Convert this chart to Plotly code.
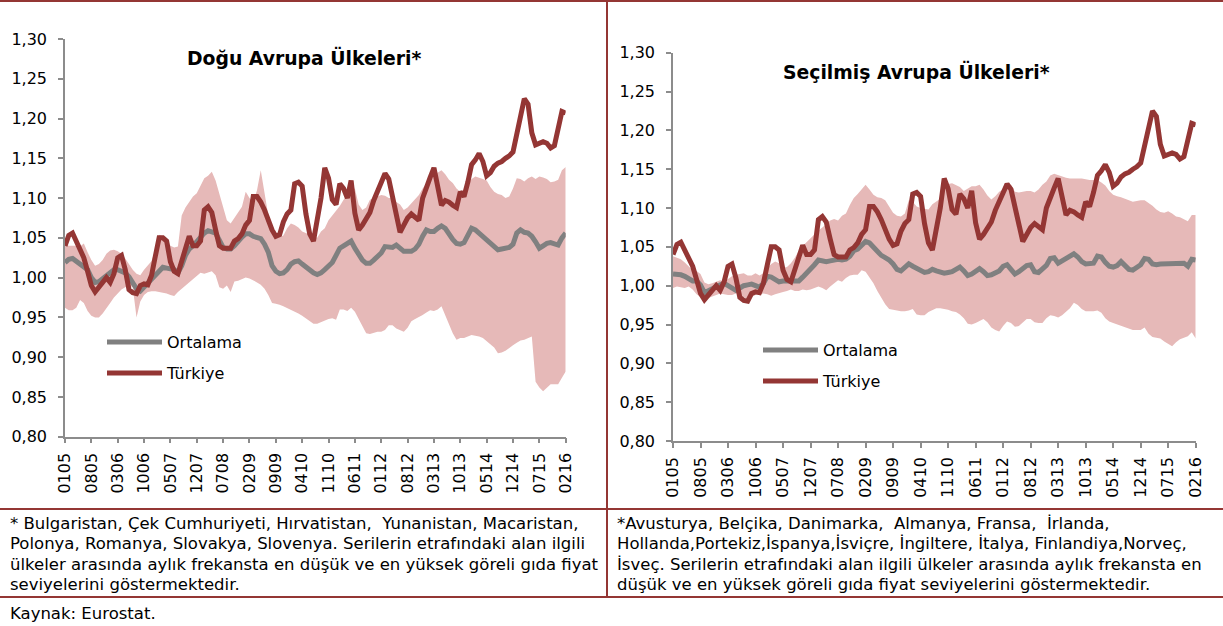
import plotly.graph_objects as go

W, H = 1223, 626

tick_labels = ["0105", "0805", "0306", "1006", "0507", "1207", "0708", "0209", "0909", "0410",
               "1110", "0611", "0112", "0812", "0313", "1013", "0514", "1214", "0715", "0216"]

turkiye = [
    1.040, 1.053, 1.056, 1.045, 1.036, 1.025, 1.008, 0.990, 0.982, 0.988,
    0.996, 1.000, 0.994, 1.005, 1.025, 1.028, 1.010, 0.985, 0.981, 0.980,
    0.990, 0.992, 0.991, 1.003, 1.027, 1.050, 1.050, 1.046, 1.020, 1.008,
    1.005, 1.022, 1.040, 1.052, 1.040, 1.040, 1.046, 1.085, 1.089, 1.082,
    1.060, 1.040, 1.037, 1.037, 1.037, 1.046, 1.049, 1.055, 1.066, 1.072,
    1.102, 1.102, 1.095, 1.085, 1.070, 1.060, 1.052, 1.054, 1.070, 1.080,
    1.085, 1.118, 1.120, 1.115, 1.080, 1.055, 1.046, 1.070, 1.100, 1.138,
    1.125, 1.098, 1.092, 1.118, 1.112, 1.100, 1.122, 1.081, 1.060, 1.066,
    1.074, 1.082, 1.097, 1.108, 1.118, 1.131, 1.124, 1.100, 1.075, 1.057,
    1.066, 1.075, 1.080, 1.075, 1.072, 1.100, 1.115, 1.126, 1.138, 1.116,
    1.091, 1.097, 1.095, 1.091, 1.088, 1.108, 1.102, 1.120, 1.142, 1.148,
    1.156, 1.146, 1.128, 1.132, 1.140, 1.144, 1.146, 1.150, 1.153, 1.158,
    1.180, 1.205, 1.225, 1.218, 1.182, 1.167, 1.169, 1.171, 1.169, 1.163,
    1.166, 1.190, 1.209, 1.207,
]

dogu_ortalama = [
    1.019, 1.023, 1.024, 1.020, 1.017, 1.013, 1.010, 1.000, 0.994, 0.995,
    0.999, 1.003, 1.007, 1.010, 1.010, 1.008, 1.006, 1.001, 0.993, 0.986,
    0.983, 0.988, 0.994, 0.999, 1.005, 1.010, 1.013, 1.012, 1.011, 1.010,
    1.006, 1.015, 1.028, 1.036, 1.040, 1.046, 1.052, 1.056, 1.059, 1.058,
    1.056, 1.047, 1.038, 1.036, 1.036, 1.040, 1.046, 1.051, 1.055, 1.055,
    1.052, 1.050, 1.049, 1.042, 1.032, 1.015, 1.008, 1.005, 1.006, 1.010,
    1.017, 1.020, 1.021, 1.017, 1.013, 1.009, 1.006, 1.004, 1.006, 1.010,
    1.014, 1.019, 1.028, 1.037, 1.040, 1.043, 1.046, 1.037, 1.028, 1.022,
    1.018, 1.018, 1.022, 1.026, 1.031, 1.039, 1.039, 1.038, 1.041, 1.036,
    1.033, 1.033, 1.033, 1.036, 1.042, 1.052, 1.060, 1.058, 1.058, 1.062,
    1.065, 1.062, 1.054, 1.048, 1.043, 1.042, 1.044, 1.052, 1.062, 1.060,
    1.056, 1.052, 1.048, 1.043, 1.038, 1.035, 1.036, 1.037, 1.038, 1.042,
    1.056, 1.060, 1.057, 1.056, 1.052, 1.045, 1.037, 1.040, 1.043, 1.044,
    1.042, 1.041, 1.050, 1.056,
]

dogu_max = [
    1.042, 1.040, 1.040, 1.040, 1.039, 1.043, 1.032, 1.022, 1.015, 1.017,
    1.022, 1.030, 1.034, 1.035, 1.033, 1.030, 1.024, 1.017, 1.010, 1.005,
    1.003, 1.010, 1.016, 1.021, 1.035, 1.054, 1.052, 1.049, 1.040, 1.038,
    1.039, 1.078, 1.088, 1.095, 1.102, 1.106, 1.115, 1.125, 1.128, 1.133,
    1.122, 1.105, 1.089, 1.072, 1.068, 1.075, 1.083, 1.089, 1.108, 1.100,
    1.095, 1.110, 1.135, 1.105, 1.078, 1.060, 1.054, 1.051, 1.053, 1.062,
    1.068, 1.066, 1.063, 1.058, 1.056, 1.055, 1.052, 1.050, 1.058, 1.062,
    1.072, 1.078, 1.085, 1.090, 1.098, 1.104, 1.110, 1.112, 1.092, 1.085,
    1.088, 1.098, 1.100, 1.102, 1.104, 1.103, 1.100, 1.100, 1.095, 1.092,
    1.085, 1.088, 1.093, 1.098, 1.104, 1.112, 1.119, 1.125, 1.129, 1.132,
    1.135, 1.130, 1.123, 1.119, 1.112, 1.108, 1.106, 1.118, 1.124, 1.127,
    1.125, 1.124, 1.122, 1.114, 1.108, 1.105, 1.104, 1.100, 1.102, 1.112,
    1.125, 1.124, 1.121, 1.125, 1.127, 1.124, 1.127, 1.126, 1.124, 1.120,
    1.121, 1.123, 1.135, 1.139,
]

dogu_min = [
    0.962, 0.959, 0.959, 0.962, 0.972, 0.968, 0.958, 0.952, 0.950, 0.950,
    0.955, 0.961, 0.968, 0.975, 0.980, 0.985, 0.988, 0.990, 0.988, 0.950,
    0.970, 0.978, 0.982, 0.983, 0.983, 0.982, 0.981, 0.980, 0.978, 0.977,
    0.982, 0.986, 0.990, 0.995, 0.998, 1.002, 1.006, 1.005, 1.007, 1.008,
    1.003, 0.988, 0.986, 0.990, 0.982, 0.995, 0.996, 0.998, 1.000, 0.999,
    0.997, 0.994, 0.991, 0.986, 0.978, 0.968, 0.967, 0.966, 0.964, 0.962,
    0.960, 0.957, 0.955, 0.952, 0.949, 0.946, 0.942, 0.942, 0.944, 0.947,
    0.948, 0.949, 0.947, 0.960, 0.960, 0.958, 0.962, 0.957, 0.948, 0.940,
    0.930, 0.929, 0.931, 0.932, 0.932, 0.934, 0.940, 0.940, 0.936, 0.934,
    0.932, 0.937, 0.945, 0.948, 0.950, 0.953, 0.956, 0.959, 0.958, 0.960,
    0.964, 0.953, 0.942, 0.930, 0.922, 0.924, 0.924, 0.926, 0.928, 0.927,
    0.926, 0.924, 0.920, 0.917, 0.912, 0.905, 0.906, 0.908, 0.912, 0.915,
    0.918, 0.921, 0.922, 0.924, 0.926, 0.869, 0.862, 0.857, 0.862, 0.866,
    0.866, 0.866, 0.874, 0.882,
]

secilmis_ortalama = [
    1.015, 1.015, 1.014, 1.012, 1.008, 1.006, 1.006, 1.001, 0.991, 0.993,
    0.996, 0.999, 1.001, 1.003, 1.000, 0.997, 0.994, 0.997, 1.000, 1.001,
    1.002, 1.000, 0.998, 1.003, 1.012, 1.011, 1.008, 1.005, 1.006, 1.006,
    1.005, 1.005, 1.006, 1.011, 1.016, 1.020, 1.027, 1.033, 1.032, 1.031,
    1.032, 1.033, 1.034, 1.033, 1.034, 1.038, 1.045, 1.047, 1.052, 1.057,
    1.055, 1.050, 1.043, 1.039, 1.036, 1.033, 1.028, 1.021, 1.019, 1.023,
    1.028, 1.025, 1.022, 1.019, 1.017, 1.018, 1.021, 1.019, 1.017, 1.016,
    1.017, 1.018, 1.021, 1.024, 1.019, 1.013, 1.015, 1.019, 1.022, 1.018,
    1.013, 1.014, 1.016, 1.019, 1.025, 1.027, 1.021, 1.015, 1.018, 1.022,
    1.026, 1.027, 1.018, 1.017, 1.021, 1.026, 1.035, 1.036, 1.029, 1.032,
    1.034, 1.037, 1.041, 1.037, 1.031, 1.028, 1.029, 1.029, 1.038, 1.037,
    1.030, 1.025, 1.024, 1.026, 1.031, 1.025, 1.021, 1.020, 1.024, 1.027,
    1.035, 1.034, 1.028, 1.027, 1.028, 1.028, 1.028, 1.029, 1.029, 1.028,
    1.029, 1.025, 1.034, 1.033,
]

secilmis_max = [
    1.038, 1.036, 1.034, 1.030, 1.025, 1.020, 1.019, 1.015, 1.004, 1.002,
    1.003, 1.005, 1.007, 1.005, 1.009, 1.012, 1.014, 1.015, 1.016, 1.013,
    1.013, 1.016, 1.013, 1.016, 1.023, 1.028, 1.031, 1.029, 1.023, 1.024,
    1.029, 1.036, 1.045, 1.051, 1.056, 1.062, 1.067, 1.071, 1.075, 1.080,
    1.084, 1.086, 1.084, 1.090, 1.093, 1.104, 1.113, 1.118, 1.124, 1.130,
    1.124, 1.117, 1.114, 1.113, 1.110, 1.102, 1.094, 1.090, 1.089, 1.093,
    1.110, 1.108, 1.102, 1.100, 1.099, 1.098, 1.105, 1.109, 1.112, 1.125,
    1.131, 1.132, 1.130, 1.127, 1.122, 1.125, 1.128, 1.128, 1.130, 1.124,
    1.116, 1.111, 1.115, 1.121, 1.124, 1.127, 1.130, 1.121, 1.120, 1.121,
    1.122, 1.122, 1.120, 1.124, 1.130, 1.134, 1.142, 1.144, 1.142, 1.141,
    1.139, 1.138, 1.138, 1.138, 1.138, 1.137, 1.136, 1.136, 1.136, 1.133,
    1.129, 1.122, 1.117, 1.115, 1.114, 1.112, 1.110, 1.108, 1.109, 1.110,
    1.110, 1.107, 1.103, 1.098, 1.095, 1.094, 1.096, 1.093, 1.089, 1.088,
    1.086, 1.083, 1.091, 1.091,
]

secilmis_min = [
    0.997, 0.999, 0.998, 0.997, 0.999, 0.995, 0.989, 0.985, 0.982, 0.984,
    0.986, 0.988, 0.990, 0.989, 0.988, 0.988, 0.990, 0.989, 0.985, 0.983,
    0.986, 0.988, 0.989, 0.990, 0.989, 0.987, 0.989, 0.991, 0.992, 0.993,
    0.995, 0.993, 0.993, 0.995, 0.994, 0.995, 0.997, 0.999, 0.997, 0.994,
    0.999, 1.003, 1.007, 1.005, 1.010, 1.013, 1.014, 1.014, 1.020, 1.018,
    1.010, 1.003, 0.993, 0.985, 0.976, 0.970, 0.969, 0.968, 0.967, 0.967,
    0.968, 0.970, 0.963, 0.962, 0.962, 0.966, 0.968, 0.971, 0.971, 0.970,
    0.969, 0.967, 0.966, 0.963, 0.958, 0.951, 0.950, 0.952, 0.954, 0.957,
    0.953, 0.946, 0.943, 0.941, 0.948, 0.954, 0.952, 0.947, 0.948, 0.952,
    0.957, 0.957, 0.953, 0.952, 0.952, 0.958, 0.962, 0.961, 0.959, 0.962,
    0.966, 0.971, 0.978, 0.975, 0.970, 0.967, 0.967, 0.967, 0.968, 0.965,
    0.958, 0.954, 0.952, 0.950, 0.948, 0.946, 0.944, 0.943, 0.943, 0.943,
    0.946, 0.938, 0.934, 0.933, 0.932, 0.928, 0.925, 0.922, 0.927, 0.931,
    0.933, 0.935, 0.940, 0.932,
]

RED = "#943634"
GRAY = "#808080"
BAND = "#E6B9B8"
AXIS = "#8C8C8C"
FONT = "DejaVu Sans, Liberation Sans, Arial, sans-serif"

months = list(range(len(turkiye)))
tick_pos = months[::7]


def px(x):
    return x / W


def py(y):
    return 1 - y / H


fig = go.Figure()

panels = [
    ("x", "y", dogu_min, dogu_max, dogu_ortalama, "legend", "legend2"),
    ("x2", "y2", secilmis_min, secilmis_max, secilmis_ortalama, "legend3", "legend4"),
]
for xa, ya, lo, hi, avg, lg_a, lg_t in panels:
    fig.add_trace(go.Scatter(x=months, y=lo, mode="lines", line=dict(width=0, color=BAND),
                             xaxis=xa, yaxis=ya, showlegend=False, hoverinfo="skip"))
    fig.add_trace(go.Scatter(x=months, y=hi, mode="lines", line=dict(width=0, color=BAND),
                             fill="tonexty", fillcolor=BAND,
                             xaxis=xa, yaxis=ya, showlegend=False, hoverinfo="skip"))
    fig.add_trace(go.Scatter(x=months, y=avg, mode="lines", name="Ortalama",
                             line=dict(width=5, color=GRAY), xaxis=xa, yaxis=ya,
                             legend=lg_a))
    fig.add_trace(go.Scatter(x=months, y=turkiye, mode="lines", name="Türkiye",
                             line=dict(width=5, color=RED), xaxis=xa, yaxis=ya,
                             legend=lg_t))

xcommon = dict(range=[0, len(turkiye) - 1], tickmode="array", tickvals=tick_pos,
               ticktext=tick_labels, tickangle=-90, showline=True, linecolor=AXIS,
               linewidth=1.5, ticks="outside", ticklen=5, tickcolor=AXIS, tickwidth=1.5,
               showgrid=False, zeroline=False, ticklabelstandoff=3, automargin=False,
               tickfont=dict(family=FONT, size=16, color="#000000"))
ycommon = dict(range=[0.80, 1.30], dtick=0.05, tick0=0.80, tickformat=".2f",
               showline=True, linecolor=AXIS, linewidth=1.5, ticks="outside",
               ticklen=5, tickcolor=AXIS, tickwidth=1.5, showgrid=False,
               zeroline=False, ticklabelstandoff=8, automargin=False,
               tickfont=dict(family=FONT, size=16, color="#000000"))

fig.update_layout(
    width=W, height=H,
    margin=dict(l=0, r=0, t=0, b=0, pad=0, autoexpand=False),
    paper_bgcolor="white", plot_bgcolor="white",
    separators=",.",
    font=dict(family=FONT, color="#000000"),
    xaxis=dict(domain=[px(65), px(565.7)], anchor="y", **xcommon),
    yaxis=dict(domain=[py(436.7), py(39)], anchor="x", **ycommon),
    xaxis2=dict(domain=[px(673), px(1195.7)], anchor="y2", **xcommon),
    yaxis2=dict(domain=[py(441), py(52.7)], anchor="x2", **ycommon),
)

leg = dict(xanchor="left", yanchor="middle", bgcolor="rgba(0,0,0,0)", borderwidth=0,
           font=dict(family=FONT, size=16, color="#000000"), itemwidth=55)
fig.update_layout(
    legend=dict(x=px(102), y=py(342), **leg),
    legend2=dict(x=px(102), y=py(373), **leg),
    legend3=dict(x=px(758), y=py(350), **leg),
    legend4=dict(x=px(758), y=py(381), **leg),
)

titles = [
    ("<b>Doğu Avrupa Ülkeleri*</b>", 304, 58),
    ("<b>Seçilmiş Avrupa Ülkeleri*</b>", 916, 72),
]
ann = []
for txt, xx, yy in titles:
    ann.append(dict(text=txt, x=px(xx), y=py(yy), xref="paper", yref="paper",
                    xanchor="center", yanchor="middle", showarrow=False,
                    font=dict(family=FONT, size=18.8, color="#000000")))

note_left = [
    "* Bulgaristan, Çek Cumhuriyeti, Hırvatistan,  Yunanistan, Macaristan,",
    "Polonya, Romanya, Slovakya, Slovenya. Serilerin etrafındaki alan ilgili",
    "ülkeler arasında aylık frekansta en düşük ve en yüksek göreli gıda fiyat",
    "seviyelerini göstermektedir.",
]
note_right = [
    "*Avusturya, Belçika, Danimarka,  Almanya, Fransa,  İrlanda,",
    "Hollanda,Portekiz,İspanya,İsviçre, İngiltere, İtalya, Finlandiya,Norveç,",
    "İsveç. Serilerin etrafındaki alan ilgili ülkeler arasında aylık frekansta en",
    "düşük ve en yüksek göreli gıda fiyat seviyelerini göstermektedir.",
]
line_y = [523, 543.5, 564, 584.5]
NOTE = 16.5
for txt, yy in zip(note_left, line_y):
    ann.append(dict(text=txt, x=px(8), y=py(yy), xref="paper", yref="paper",
                    xanchor="left", yanchor="middle", showarrow=False,
                    font=dict(family=FONT, size=NOTE, color="#000000")))
for txt, yy in zip(note_right, line_y):
    ann.append(dict(text=txt, x=px(615), y=py(yy), xref="paper", yref="paper",
                    xanchor="left", yanchor="middle", showarrow=False,
                    font=dict(family=FONT, size=NOTE, color="#000000")))
ann.append(dict(text="Kaynak: Eurostat.", x=px(8), y=py(613), xref="paper", yref="paper",
                xanchor="left", yanchor="middle", showarrow=False,
                font=dict(family=FONT, size=NOTE, color="#000000")))
fig.update_layout(annotations=ann)

border = dict(color=RED, width=2)
shapes = [
    dict(type="line", xref="paper", yref="paper", x0=0, x1=1, y0=py(1), y1=py(1), line=border),
    dict(type="line", xref="paper", yref="paper", x0=0, x1=1, y0=py(509), y1=py(509), line=border),
    dict(type="line", xref="paper", yref="paper", x0=0, x1=1, y0=py(597), y1=py(597), line=border),
    dict(type="line", xref="paper", yref="paper", x0=px(607), x1=px(607), y0=py(597), y1=py(0), line=border),
]
fig.update_layout(shapes=shapes)

fig.write_html("out.html", config={"displayModeBar": False},
               post_script="document.body.style.margin='0px';document.body.style.overflow='hidden';")
